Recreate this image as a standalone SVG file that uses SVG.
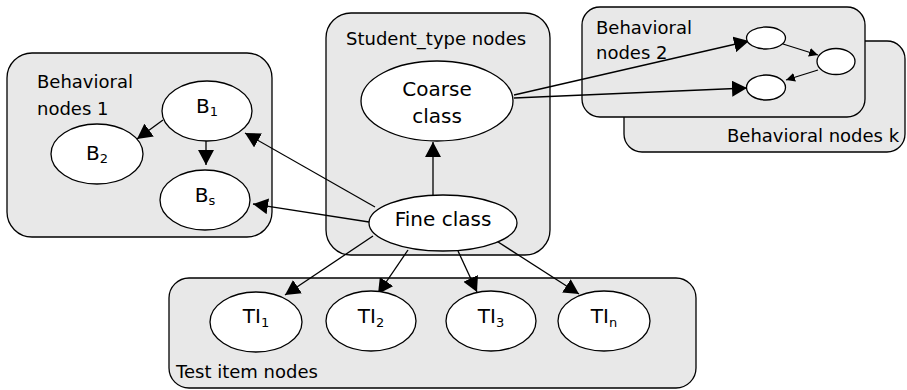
<svg xmlns="http://www.w3.org/2000/svg" width="907" height="390" viewBox="0 0 907 390">
<style>
.box{fill:#e8e8e8;stroke:#000;stroke-width:1.3}
.nd{fill:#fff;stroke:#000;stroke-width:1.3}
.lbl{font-family:"DejaVu Sans",Verdana,sans-serif;font-size:18px;fill:#000}
.nl{font-family:"DejaVu Sans",Verdana,sans-serif;font-size:20px;fill:#000;text-anchor:middle}
.sub{font-size:13px}
.ed{stroke:#000;stroke-width:1.3;fill:none;marker-end:url(#ah)}
.es{stroke:#000;stroke-width:1.3;fill:none;marker-end:url(#as)}
</style>
<defs>
<marker id="ah" markerUnits="userSpaceOnUse" markerWidth="16" markerHeight="16" refX="15" refY="8" orient="auto"><path d="M0,0 L15,8 L0,16 z" fill="#000"/></marker>
<marker id="as" markerUnits="userSpaceOnUse" markerWidth="10" markerHeight="10" refX="9" refY="4.5" orient="auto"><path d="M0,0 L9,4.5 L0,9 z" fill="#000"/></marker>
</defs>
<g id="box-behavioral-k"><rect class="box" x="624" y="41" width="281" height="111" rx="18"/><text class="lbl" x="727" y="142">Behavioral nodes k</text></g>
<g id="box-behavioral-2"><rect class="box" x="582" y="7" width="283" height="110" rx="18"/><text class="lbl" x="596" y="34">Behavioral</text><text class="lbl" x="596" y="59">nodes 2</text></g>
<g id="box-behavioral-1"><rect class="box" x="7" y="53" width="265" height="184" rx="25"/><text class="lbl" x="37" y="88">Behavioral</text><text class="lbl" x="37" y="115">nodes 1</text></g>
<g id="box-student-type"><rect class="box" x="326" y="13" width="224" height="242" rx="25"/><text class="lbl" x="346" y="45">Student_type nodes</text></g>
<g id="box-test-item"><rect class="box" x="169" y="278" width="527" height="110" rx="20"/><text class="lbl" x="176" y="378">Test item nodes</text></g>
<g id="connectors">
<line class="ed" x1="433" y1="195" x2="433" y2="142"/>
<line class="ed" x1="375" y1="207" x2="245" y2="133"/>
<line class="ed" x1="369" y1="222" x2="253" y2="204"/>
<line class="ed" x1="163" y1="120" x2="137" y2="139"/>
<line class="ed" x1="206" y1="141" x2="206" y2="165"/>
<line class="ed" x1="373" y1="236" x2="285" y2="295"/>
<line class="ed" x1="408" y1="250" x2="378" y2="294"/>
<line class="ed" x1="458" y1="251" x2="477" y2="292"/>
<line class="ed" x1="495" y1="240" x2="579" y2="294"/>
<line class="ed" x1="514" y1="95" x2="749" y2="41"/>
<line class="ed" x1="514" y1="98" x2="747" y2="88"/>
<line class="es" x1="783" y1="44" x2="818" y2="55"/>
<line class="es" x1="818" y1="70" x2="786" y2="80"/>
</g>
<g id="node-b1"><ellipse class="nd" cx="207" cy="111" rx="45" ry="30"/><text class="nl" x="207" y="113">B<tspan class="sub" dy="3">1</tspan></text></g>
<g id="node-b2"><ellipse class="nd" cx="97" cy="154" rx="46" ry="30"/><text class="nl" x="97" y="160">B<tspan class="sub" dy="3">2</tspan></text></g>
<g id="node-bs"><ellipse class="nd" cx="205" cy="200" rx="45" ry="30"/><text class="nl" x="205" y="202">B<tspan class="sub" dy="3">s</tspan></text></g>
<g id="node-coarse"><ellipse class="nd" cx="437" cy="101" rx="76" ry="40"/><text class="nl" x="437" y="96">Coarse</text><text class="nl" x="437" y="123">class</text></g>
<g id="node-fine"><ellipse class="nd" cx="443" cy="223" rx="74" ry="28"/><text class="nl" x="443" y="226">Fine class</text></g>
<g id="node-ti1"><ellipse class="nd" cx="256" cy="322" rx="46" ry="30"/><text class="nl" x="256" y="323">TI<tspan class="sub" dy="4">1</tspan></text></g>
<g id="node-ti2"><ellipse class="nd" cx="371" cy="321" rx="45" ry="30"/><text class="nl" x="371" y="323">TI<tspan class="sub" dy="4">2</tspan></text></g>
<g id="node-ti3"><ellipse class="nd" cx="491" cy="321" rx="45" ry="30"/><text class="nl" x="491" y="323">TI<tspan class="sub" dy="4">3</tspan></text></g>
<g id="node-tin"><ellipse class="nd" cx="604" cy="321" rx="46" ry="30"/><text class="nl" x="604" y="323">TI<tspan class="sub" dy="4">n</tspan></text></g>
<g id="node-s1"><ellipse class="nd" cx="766" cy="38" rx="19.5" ry="11"/></g>
<g id="node-s2"><ellipse class="nd" cx="836" cy="61.5" rx="19" ry="13"/></g>
<g id="node-s3"><ellipse class="nd" cx="766" cy="87.5" rx="19.5" ry="12.5"/></g>
</svg>
